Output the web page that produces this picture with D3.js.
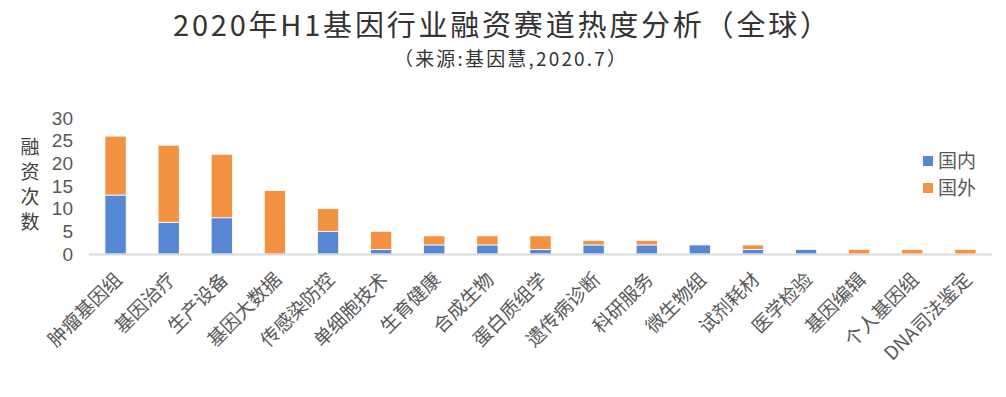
<!DOCTYPE html>
<html>
<head>
<meta charset="utf-8">
<script src="https://cdn.jsdelivr.net/npm/d3@7"></script>
<style>
  body { margin: 0; background: #fff; }
  svg { display: block; font-family: "Noto Sans CJK SC", "Noto Sans", sans-serif; }
</style>
</head>
<body>
<div id="chart"></div>
<script>
// 2020年H1基因行业融资赛道热度分析 - stacked bars

const categories = ["肿瘤基因组", "基因治疗", "生产设备", "基因大数据", "传感染防控", "单细胞技术",
    "生育健康", "合成生物", "蛋白质组学", "遗传病诊断", "科研服务", "微生物组",
    "试剂耗材", "医学检验", "基因编辑", "个人基因组", "DNA司法鉴定"];
const domestic = [13, 7, 8, 0, 5, 1, 2, 2, 1, 2, 2, 2, 1, 1, 0, 0, 0];
const foreign  = [13, 17, 14, 14, 5, 4, 2, 2, 3, 1, 1, 0, 1, 0, 1, 1, 1];
const seriesNames = ["国内", "国外"];
const yTicks = [0, 5, 10, 15, 20, 25, 30];

const width = 1006, height = 397;
const margin = { top: 118, right: 14, bottom: 143, left: 89 };
const colors = { "国内": "#5687d4", "国外": "#f39241" };

const svg = d3.select("#chart").append("svg")
    .attr("width", width)
    .attr("height", height);

const rows = categories.map((c, i) => ({ cat: c, "国内": domestic[i], "国外": foreign[i] }));
const stacked = d3.stack().keys(seriesNames)(rows);

const x = d3.scaleBand()
    .domain(categories)
    .range([margin.left, width - margin.right])
    .paddingInner(0.6)
    .paddingOuter(0.3);

const y = d3.scaleLinear()
    .domain([0, 30])
    .range([height - margin.bottom, margin.top]);

// title
svg.append("text")
    .attr("x", 501).attr("y", 36)
    .attr("text-anchor", "middle")
    .style("font-size", "29px")
    .style("fill", "#333")
    .attr("textLength", 656)
    .text("2020年H1基因行业融资赛道热度分析（全球）");

svg.append("text")
    .attr("x", 510).attr("y", 66)
    .attr("text-anchor", "middle")
    .style("font-size", "19px")
    .style("fill", "#333")
    .attr("textLength", 232)
    .text("（来源:基因慧,2020.7）");

// y tick labels (no axis line)
const yAxis = svg.append("g")
    .attr("transform", `translate(${margin.left - 16},0)`)
    .call(d3.axisLeft(y).tickValues(yTicks).tickSize(0).tickPadding(0));
yAxis.select(".domain").remove();
yAxis.selectAll("text")
    .style("font-size", "19px")
    .style("fill", "#595959")
    .style("font-family", "'Liberation Sans', Arial, sans-serif");

// y title, stacked vertically
const yTitle = "融资次数".split("");
svg.append("g").selectAll("text")
    .data(yTitle)
    .enter().append("text")
    .attr("x", 30)
    .attr("y", (d, i) => 154 + i * 25)
    .attr("text-anchor", "middle")
    .style("font-size", "19px")
    .style("fill", "#404040")
    .text(d => d);

// bars
svg.append("g").selectAll("g")
    .data(stacked)
    .enter().append("g")
    .attr("fill", d => colors[d.key])
    .selectAll("rect")
    .data(d => d.filter(p => p[1] > p[0]))
    .enter().append("rect")
    .attr("x", d => x(d.data.cat))
    .attr("y", d => y(d[1]))
    .attr("width", x.bandwidth())
    .attr("height", d => y(d[0]) - y(d[1]))
    .attr("stroke", "#fff")
    .attr("stroke-width", 0.8);

// baseline
svg.append("line")
    .attr("x1", margin.left).attr("x2", width - margin.right)
    .attr("y1", y(0) + 0.5).attr("y2", y(0) + 0.5)
    .attr("stroke", "#d9d9d9")
    .attr("stroke-width", 2);

// x labels, rotated
const xAxis = svg.append("g")
    .attr("transform", `translate(0,${y(0)})`)
    .call(d3.axisBottom(x).tickSize(0).tickPadding(0));
xAxis.select(".domain").remove();
xAxis.selectAll("text")
    .attr("text-anchor", "end")
    .attr("dy", "0.35em")
    .attr("transform", "translate(3,22) rotate(-45)")
    .style("font-size", "19px")
    .style("fill", "#595959")
    .style("font-family", "'Noto Sans CJK SC', sans-serif");

// legend
const legend = svg.append("g").selectAll("g")
    .data(seriesNames)
    .enter().append("g")
    .attr("transform", (d, i) => `translate(923,${161 + i * 27})`);
legend.append("rect")
    .attr("x", 0).attr("y", -5)
    .attr("width", 10).attr("height", 10)
    .attr("fill", d => colors[d]);
legend.append("text")
    .attr("x", 15).attr("y", 0)
    .attr("dy", "0.35em")
    .style("font-size", "19px")
    .style("fill", "#595959")
    .text(d => d);
</script>
</body>
</html>
